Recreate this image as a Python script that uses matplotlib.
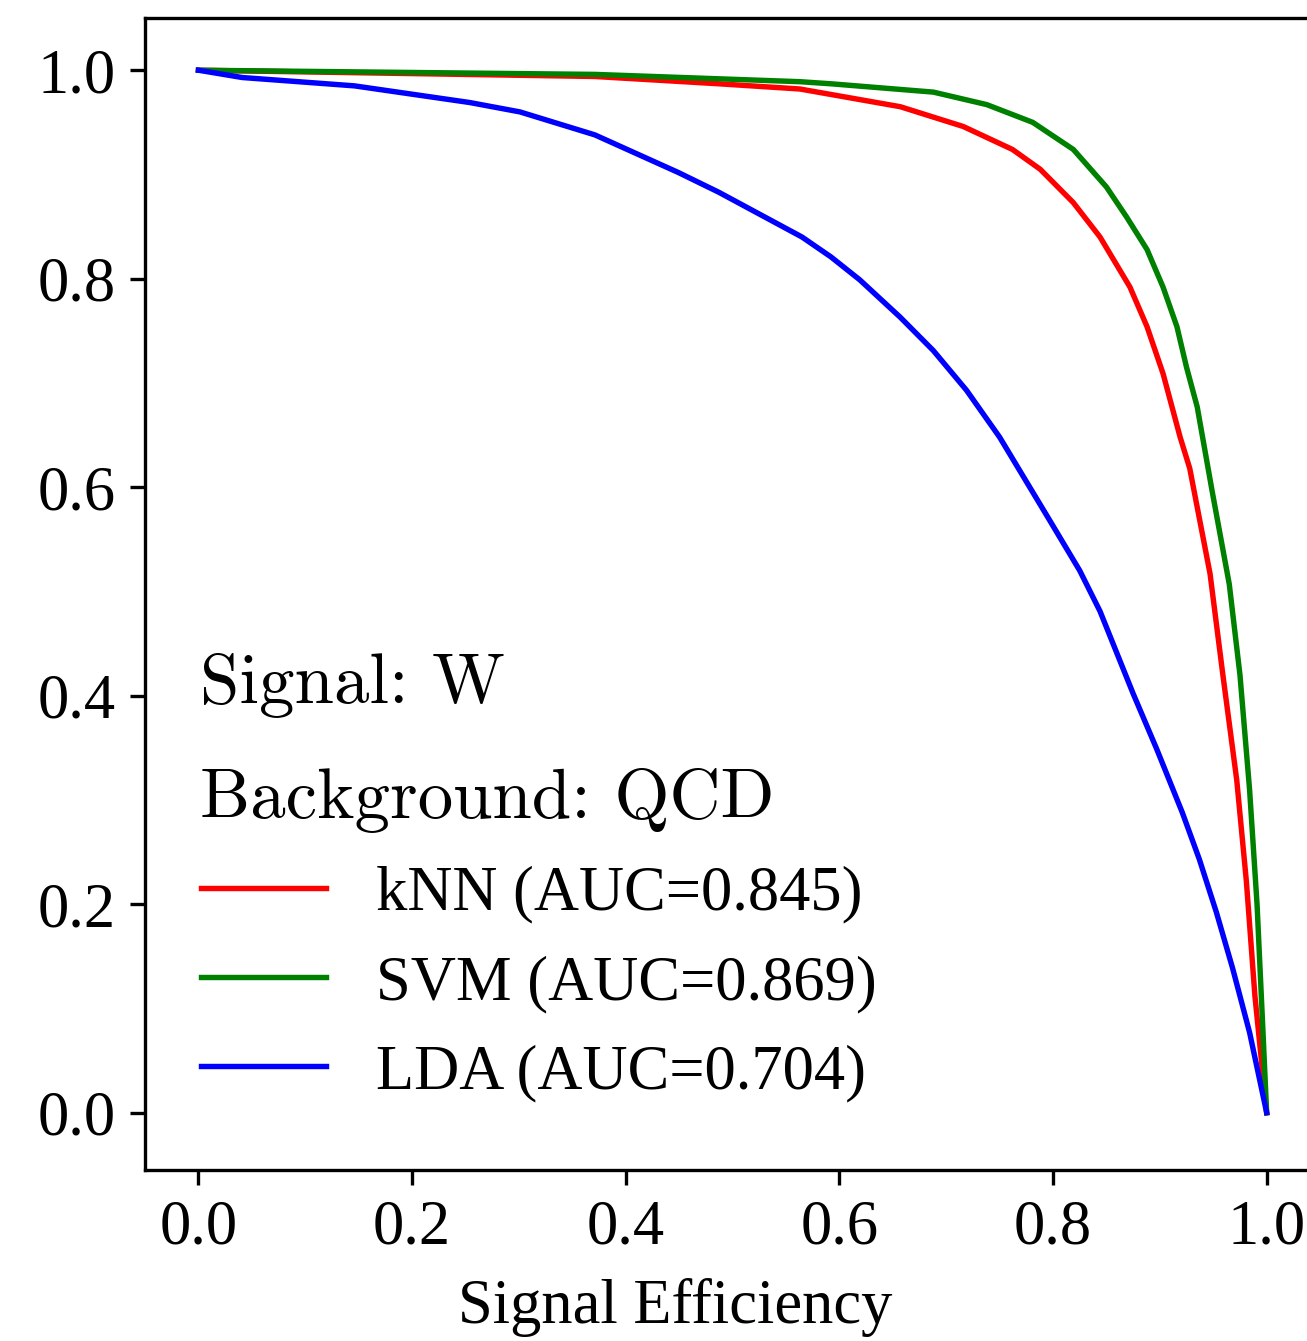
import matplotlib
matplotlib.use("Agg")
import matplotlib.pyplot as plt

plt.rcParams['font.family'] = 'serif'
plt.rcParams['font.serif'] = ['Liberation Serif', 'DejaVu Serif']
plt.rcParams['font.size'] = 15

# signal efficiency vs background rejection
knn_eff = [0.0, 0.371, 0.487, 0.563, 0.657, 0.716, 0.762, 0.788, 0.819, 0.844,
           0.872, 0.888, 0.903, 0.919, 0.928, 0.947, 0.959, 0.972, 0.981, 0.989, 1.0]
knn_rej = [1.0, 0.994, 0.987, 0.982, 0.965, 0.946, 0.924, 0.905, 0.873, 0.84,
           0.792, 0.754, 0.709, 0.648, 0.618, 0.517, 0.42, 0.319, 0.222, 0.112, 0.0]

svm_eff = [0.0, 0.371, 0.563, 0.592, 0.688, 0.738, 0.781, 0.819, 0.85, 0.869,
           0.888, 0.903, 0.916, 0.925, 0.935, 0.949, 0.965, 0.975, 0.984, 0.991,
           0.996, 1.0]
svm_rej = [1.0, 0.996, 0.989, 0.987, 0.979, 0.967, 0.95, 0.924, 0.888, 0.859,
           0.828, 0.792, 0.754, 0.715, 0.677, 0.596, 0.507, 0.42, 0.31, 0.2,
           0.09, 0.0]

lda_eff = [0.0, 0.041, 0.146, 0.254, 0.301, 0.371, 0.449, 0.487, 0.565, 0.592,
           0.619, 0.657, 0.688, 0.719, 0.75, 0.797, 0.825, 0.844, 0.875, 0.897,
           0.921, 0.937, 0.953, 0.968, 0.984, 1.0]
lda_rej = [1.0, 0.993, 0.985, 0.969, 0.96, 0.938, 0.902, 0.883, 0.84, 0.821,
           0.799, 0.763, 0.731, 0.693, 0.648, 0.568, 0.52, 0.481, 0.402, 0.349,
           0.288, 0.243, 0.192, 0.139, 0.077, 0.0]

labels = ['kNN (AUC=0.845)', 'SVM (AUC=0.869)', 'LDA (AUC=0.704)']
ticks = [0.0, 0.2, 0.4, 0.6, 0.8, 1.0]

fig = plt.figure(figsize=(1307 / 300, 1341 / 300), dpi=300)
# axes run past the right edge, like the cropped original
ax = fig.add_axes([0.111, 0.1275, 0.899, 0.859])

ax.plot(knn_eff, knn_rej, color='red', lw=1.3, label=labels[0])
ax.plot(svm_eff, svm_rej, color='green', lw=1.3, label=labels[1])
ax.plot(lda_eff, lda_rej, color='blue', lw=1.3, label=labels[2])

ax.set_xlim(-0.05, 1.05)
ax.set_ylim(-0.055, 1.05)
ax.set_xticks(ticks)
ax.set_yticks(ticks)
ax.set_xlabel('Signal Efficiency', labelpad=5)
ax.xaxis.label.set_x(0.451)

# computer modern for the sample description
ax.text(0.047, 0.405, 'Signal: W', transform=ax.transAxes,
        fontsize=17, family='cmr10', va='baseline')
ax.text(0.047, 0.306, 'Background: QCD', transform=ax.transAxes,
        fontsize=17, family='cmr10', va='baseline')
ax.legend(loc='lower left', frameon=False, bbox_to_anchor=(0, 0.01))

fig.savefig('out.png', dpi=300)
